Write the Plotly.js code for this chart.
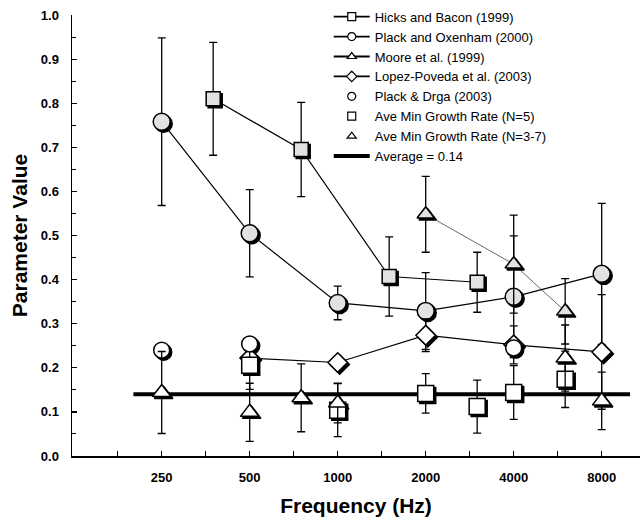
<!DOCTYPE html>
<html><head><meta charset="utf-8">
<script src="https://cdn.plot.ly/plotly-3.0.1.min.js"></script>
<style>html,body{margin:0;padding:0;background:#fff}#chart{width:642px;height:525px}</style>
</head><body><div id="chart"></div>
<script>
// ---- data ----
const hicksFreq = [375, 750, 1500, 3000];
const hicksVal  = [0.81, 0.695, 0.407, 0.394];
const hicksErr  = [0.128, 0.107, 0.09, 0.068];

const plackOxFreq = [250, 500, 1000, 2000, 4000, 8000];
const plackOxVal  = [0.758, 0.505, 0.347, 0.329, 0.361, 0.413];
const plackOxErr  = [0.19, 0.099, 0.038, 0.087, 0.138, 0.16];

const mooreFreq = [2000, 4000, 6000];
const mooreVal  = [0.548, 0.435, 0.328];
const mooreErr  = [0.086, 0.111, 0.074];

const lopezFreq = [500, 1000, 2000, 4000, 8000];
const lopezVal  = [0.222, 0.212, 0.274, 0.252, 0.236];
const lopezErr  = [0, 0, 0.037, 0.043, 0.13];

const plackDrgaFreq = [250, 500, 4000];
const plackDrgaVal  = [0.240, 0.254, 0.245];

const n5Freq = [500, 1000, 2000, 3000, 4000, 6000];
const n5Val  = [0.206, 0.104, 0.142, 0.112, 0.144, 0.174];
const n5Err  = [0.055, 0.06, 0.045, 0.06, 0.061, 0.064];

const n37Freq = [250, 500, 750, 1000, 6000, 8000];
const n37Val  = [0.144, 0.099, 0.132, 0.12, 0.222, 0.125];
const n37Err  = [0.093, 0.066, 0.077, 0.045, 0.075, 0.065];

const avgFreq = [200, 10000];
const avgVal  = [0.14, 0.14];

const xTickVals = [177, 250, 354, 500, 707, 1000, 1414, 2000, 2828, 4000, 5657, 8000];
const xTickText = ['', '250', '', '500', '', '1000', '', '2000', '', '4000', '', '8000'];

const seriesNames = ['Hicks and Bacon (1999)', 'Plack and Oxenham (2000)', 'Moore et al. (1999)',
  'Lopez-Poveda et al. (2003)', 'Plack & Drga (2003)', 'Ave Min Growth Rate (N=5)',
  'Ave Min Growth Rate (N=3-7)', 'Average = 0.14'];

// ---- styles ----
const GRAY = '#e2e2e2';
const series = [
  {name: seriesNames[0], x: hicksFreq, y: hicksVal, e: hicksErr, mode: 'lines+markers', lw: 1.2, sym: 'square', size: 14, fill: GRAY},
  {name: seriesNames[1], x: plackOxFreq, y: plackOxVal, e: plackOxErr, mode: 'lines+markers', lw: 1.2, sym: 'circle', size: 17, fill: GRAY},
  {name: seriesNames[2], x: mooreFreq, y: mooreVal, e: mooreErr, mode: 'lines+markers', lw: 0.6, sym: 'triangle-up', size: 15, fill: GRAY},
  {name: seriesNames[3], x: lopezFreq, y: lopezVal, e: lopezErr, mode: 'lines+markers', lw: 1.2, sym: 'diamond', size: 15, fill: '#fff'},
  {name: seriesNames[5], x: n5Freq, y: n5Val, e: n5Err, mode: 'markers', lw: 0, sym: 'square', size: 16, fill: '#fff'},
  {name: seriesNames[4], x: plackDrgaFreq, y: plackDrgaVal, e: null, mode: 'markers', lw: 0, sym: 'circle', size: 16, fill: '#fff'},
  {name: seriesNames[6], x: n37Freq, y: n37Val, e: n37Err, mode: 'markers', lw: 0, sym: 'triangle-up', size: 16, fill: '#fff'}
];
const legendOrder = [0, 1, 2, 3, 5, 4, 6];

const traces = [];
// shadows (drawn on the lower, slightly offset subplot)
series.forEach(s => {
  traces.push({
    x: s.x, y: s.y, xaxis: 'x', yaxis: 'y', mode: 'markers', showlegend: false, hoverinfo: 'skip',
    cliponaxis: false,
    marker: {symbol: s.sym, size: s.size, color: '#000', line: {width: 1.5, color: '#000'}}
  });
});
// average line
traces.push({
  x: avgFreq, y: avgVal, xaxis: 'x2', yaxis: 'y2', mode: 'lines', showlegend: false,
  line: {color: '#000', width: 4}, cliponaxis: false
});
// main series
series.forEach(s => {
  const t = {
    x: s.x, y: s.y, xaxis: 'x2', yaxis: 'y2', mode: s.mode, name: s.name, showlegend: false,
    cliponaxis: false,
    line: {color: '#000', width: s.lw},
    marker: {symbol: s.sym, size: s.size, color: s.fill, line: {width: 1.5, color: '#000'}}
  };
  if (s.e) t.error_y = {type: 'data', array: s.e, visible: true, color: '#000', thickness: 1.3, width: 4};
  traces.push(t);
});
// legend entries
legendOrder.forEach((idx, k) => {
  const s = series[idx];
  traces.push({
    x: [null], y: [null], xaxis: 'x2', yaxis: 'y2', mode: s.mode, name: s.name, legendrank: k + 1,
    line: {color: '#000', width: s.mode === 'markers' ? 0 : Math.max(s.lw, 1.2) + 0.6},
    marker: {symbol: s.sym, size: 8, color: '#fff', line: {width: 1.2, color: '#000'}}
  });
});
traces.push({
  x: [null], y: [null], xaxis: 'x2', yaxis: 'y2', mode: 'lines', name: seriesNames[7], legendrank: 8,
  line: {color: '#000', width: 4}
});

// geometry
const L = 72, R = 2, T = 15, B = 69, W = 642, H = 525;
const pw = W - L - R, ph = H - T - B;
const xr = [2.0911, 4.0341], yr = [0, 1];
const dx = 2 / pw, dy = 2 / ph;

const FONT = 'Liberation Sans, Arial, Helvetica, sans-serif';

const layout = {
  width: W, height: H,
  margin: {l: L, r: R, t: T, b: B},
  paper_bgcolor: '#fff', plot_bgcolor: 'rgba(0,0,0,0)',
  font: {family: FONT, color: '#000'},
  showlegend: true,
  legend: {x: 0.452, y: 1.03, xanchor: 'left', yanchor: 'top', bgcolor: 'rgba(0,0,0,0)',
           font: {family: FONT, size: 13, color: '#000'}, itemwidth: 36, tracegroupgap: 0, traceorder: 'normal'},
  // shadow subplot
  xaxis: {type: 'log', domain: [dx, 1], range: [xr[0], xr[1] - dx * (xr[1] - xr[0])], visible: false, anchor: 'y'},
  yaxis: {domain: [0, 1 - dy], range: [yr[0] + dy * (yr[1] - yr[0]), yr[1]], visible: false, anchor: 'x'},
  // main subplot
  xaxis2: {
    type: 'log', domain: [0, 1], range: xr, anchor: 'y2',
    showline: true, linewidth: 1.5, linecolor: '#000', showgrid: false, zeroline: false,
    tickmode: 'array', tickvals: xTickVals, ticktext: xTickText,
    ticks: 'inside', ticklen: 5, tickwidth: 1.2, tickcolor: '#000', ticklabelstandoff: 9,
    tickfont: {family: FONT, size: 13, weight: 'bold'},
    title: {text: 'Frequency (Hz)', font: {family: FONT, size: 21, weight: 'bold'}, standoff: 14}
  },
  yaxis2: {
    domain: [0, 1], range: yr, anchor: 'x2',
    showline: true, linewidth: 1.5, linecolor: '#000', showgrid: false, zeroline: false,
    dtick: 0.1, tick0: 0, tickformat: '.1f',
    ticks: 'inside', ticklen: 5, tickwidth: 1.2, tickcolor: '#000', ticklabelstandoff: 9,
    minor: {dtick: 0.05, ticks: 'inside', ticklen: 4, tickcolor: '#000', tickwidth: 1},
    tickfont: {family: FONT, size: 13, weight: 'bold'},
    title: {text: 'Parameter Value', font: {family: FONT, size: 21, weight: 'bold'}, standoff: 7}
  }
};

Plotly.newPlot('chart', traces, layout, {displayModeBar: false, staticPlot: true});
</script>
</body></html>
